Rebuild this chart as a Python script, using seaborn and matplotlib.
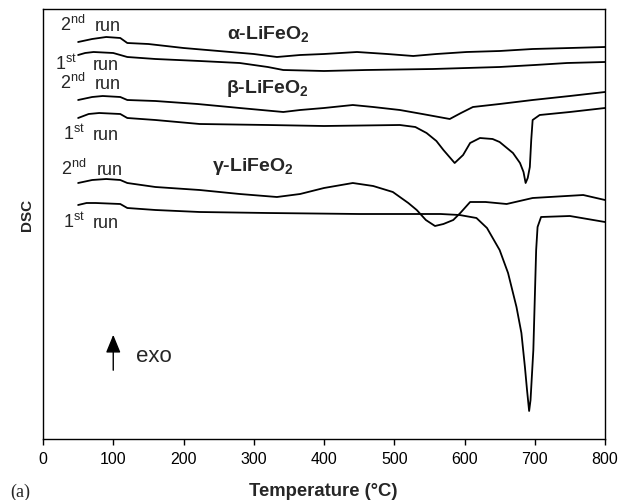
import matplotlib
matplotlib.use("Agg")
import matplotlib.pyplot as plt
import seaborn as sns
import pandas as pd

# DSC traces of the three LiFeO2 polymorphs (arbitrary heat-flow units, offset per trace)
alpha_2nd_T = [50, 70, 90, 110, 120, 150, 200, 250, 300, 333, 366, 400, 447, 490, 527, 560, 603, 650, 697, 750, 800]
alpha_2nd_v = [397, 400, 402, 401, 396, 395, 391, 388, 385, 382, 384, 385, 387, 385, 383, 385, 387, 388, 390, 391, 392]

alpha_1st_T = [50, 60, 72, 100, 120, 160, 223, 280, 320, 342, 400, 460, 555, 650, 700, 746, 800]
alpha_1st_v = [384, 386, 387, 386, 382, 380, 378, 376, 372, 369, 368, 369, 370, 372, 374, 376, 377]

beta_2nd_T = [50, 70, 85, 110, 120, 160, 220, 280, 342, 366, 400, 441, 470, 508, 540, 579, 595, 612, 650, 697, 750, 800]
beta_2nd_v = [339, 342, 343, 342, 339, 338, 335, 331, 327, 329, 331, 334, 332, 329, 325, 320, 326, 332, 335, 339, 343, 347]

beta_1st_T = [50, 65, 80, 110, 120, 160, 223, 320, 400, 508, 530, 546, 560, 570, 586, 598, 608, 622, 640, 650,
              669, 679, 684, 687, 690, 693, 695, 697, 707, 750, 800]
beta_1st_v = [321, 325, 326, 325, 321, 319, 315, 314, 313, 314, 312, 306, 298, 289, 276, 284, 296, 301, 300, 297,
              286, 276, 267, 256, 261, 272, 299, 319, 324, 327, 331]

gamma_2nd_T = [50, 70, 90, 110, 120, 160, 223, 280, 333, 366, 400, 441, 470, 498, 520, 532, 545, 558, 570, 584,
               594, 608, 630, 660, 697, 769, 800]
gamma_2nd_v = [256, 259, 260, 259, 256, 252, 249, 245, 242, 245, 251, 256, 253, 247, 236, 229, 219, 213, 215, 219,
               226, 237, 237, 235, 241, 244, 239]

gamma_1st_T = [50, 62, 75, 110, 120, 160, 223, 320, 450, 566, 593, 617, 632, 650, 662, 674, 681, 686, 689, 692,
               694, 698, 700, 702, 704, 709, 750, 800]
gamma_1st_v = [234, 236, 236, 235, 231, 229, 227, 226, 225, 225, 224, 221, 211, 189, 166, 132, 106, 72, 49, 28,
               39, 89, 139, 189, 212, 222, 223, 217]

x_ticks = [0, 100, 200, 300, 400, 500, 600, 700, 800]

traces = {
    "alpha_2nd": (alpha_2nd_T, alpha_2nd_v),
    "alpha_1st": (alpha_1st_T, alpha_1st_v),
    "beta_2nd": (beta_2nd_T, beta_2nd_v),
    "beta_1st": (beta_1st_T, beta_1st_v),
    "gamma_2nd": (gamma_2nd_T, gamma_2nd_v),
    "gamma_1st": (gamma_1st_T, gamma_1st_v),
}
frames = [pd.DataFrame({"T": t, "DSC": v, "trace": name}) for name, (t, v) in traces.items()]
df = pd.concat(frames, ignore_index=True)

sns.set_style("ticks")
plt.rcParams["font.family"] = ["Liberation Sans", "DejaVu Sans"]
plt.rcParams["mathtext.fontset"] = "custom"
plt.rcParams["mathtext.rm"] = "Liberation Sans"
plt.rcParams["mathtext.bf"] = "Liberation Sans:bold"

fig = plt.figure(figsize=(6.18, 5.0), dpi=100)
ax = fig.add_axes([43 / 618, 1 - 439 / 500, (605 - 43) / 618, (439 - 9) / 500])

for name in traces:
    sub = df[df["trace"] == name]
    sns.lineplot(data=sub, x="T", y="DSC", ax=ax, color="black", linewidth=1.3,
                 sort=False, estimator=None, legend=False)

ax.set_xlim(0, 800)
ax.set_ylim(0, 430)
ax.set_xticks(x_ticks)
ax.set_xticklabels([str(t) for t in x_ticks], fontsize=11.5)
ax.set_yticks([])
ax.set_xlabel("")
ax.set_ylabel("")
ax.tick_params(axis="x", direction="out", length=4.5, width=1, pad=5, colors="black")
for s in ax.spines.values():
    s.set_visible(True)
    s.set_linewidth(1.0)
    s.set_color("black")

# run labels
run_fs = 13
run_labels = [
    (24, 408, "2$^{\\mathrm{nd}}$", 74),
    (17, 369, "1$^{\\mathrm{st}}$", 71),
    (24, 350, "2$^{\\mathrm{nd}}$", 74),
    (28.5, 299, "1$^{\\mathrm{st}}$", 71),
    (25, 264, "2$^{\\mathrm{nd}}$", 77),
    (28.5, 211, "1$^{\\mathrm{st}}$", 71),
]
for x0, y0, ordinal, xr in run_labels:
    ax.text(x0, y0, ordinal, fontsize=run_fs, ha="left", va="baseline")
    ax.text(xr, y0, "run", fontsize=run_fs, ha="left", va="baseline")

# phase labels
phase_fs = 14
ax.text(262, 399, "α-LiFeO$_{\\mathbf{2}}$", fontsize=phase_fs, fontweight="bold", ha="left", va="baseline")
ax.text(261, 346, "β-LiFeO$_{\\mathbf{2}}$", fontsize=phase_fs, fontweight="bold", ha="left", va="baseline")
ax.text(241, 268, "γ-LiFeO$_{\\mathbf{2}}$", fontsize=phase_fs, fontweight="bold", ha="left", va="baseline")

# exotherm direction
ax.annotate("", xy=(100, 107), xytext=(100, 66),
            arrowprops=dict(arrowstyle="-|>,head_length=1.1,head_width=0.45", color="black", lw=1.0))
ax.text(133, 82, "exo", fontsize=16, ha="left", va="center")

fig.text(26.5 / 618, 1 - 215 / 500, "DSC", rotation=90, fontsize=11, fontweight="bold",
         ha="center", va="center")
fig.text((249 + 398) / 2 / 618, 1 - 491 / 500, "Temperature (°C)", fontsize=13.3, fontweight="bold",
         ha="center", va="center")
fig.text(10 / 618, 1 - 492 / 500, "(a)", fontsize=13, family=["Liberation Serif", "DejaVu Serif"],
         ha="left", va="center")

fig.savefig("out.png", dpi=100)
